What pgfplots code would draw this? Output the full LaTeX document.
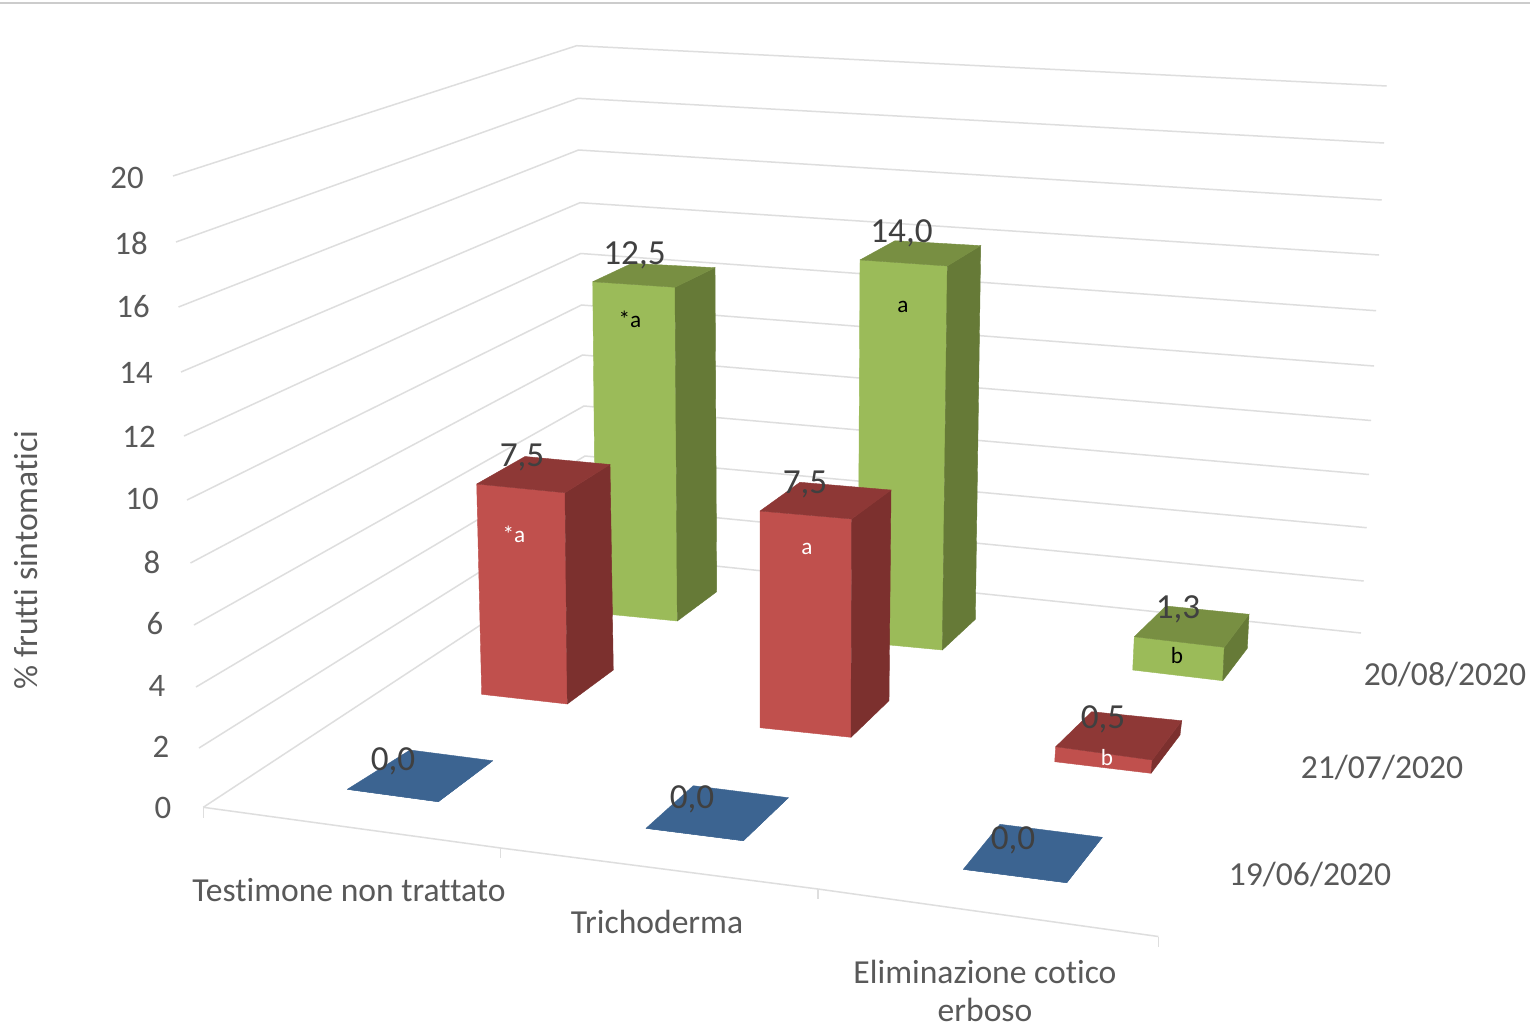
\documentclass[border=0pt]{standalone}
\usepackage{fontspec}
\setmainfont[Ligatures=NoCommon]{Carlito}
\usepackage{pgfplots}
\pgfplotsset{compat=1.18}

\definecolor{griglia}{HTML}{DEDEDE}
\definecolor{asse}{HTML}{595959}
\definecolor{etic}{HTML}{404040}
\definecolor{verdeF}{HTML}{9BBB59}
\definecolor{verdeS}{HTML}{667A37}
\definecolor{verdeT}{HTML}{788F42}
\definecolor{rossoF}{HTML}{C0504D}
\definecolor{rossoS}{HTML}{7C302E}
\definecolor{rossoT}{HTML}{8E3836}
\definecolor{bluT}{HTML}{3C6491}

% A corner is "base x, base y, lift x, lift y", the lift being per unit of height.
\def\cimaaux#1#2#3,#4,#5,#6\relax{%
  \expandafter\def\csname bx#1\endcsname{#3}%
  \expandafter\def\csname by#1\endcsname{#4}%
  \expandafter\pgfmathsetmacro\csname tx#1\endcsname{#3+(#2)*(#5)}%
  \expandafter\pgfmathsetmacro\csname ty#1\endcsname{#4-(#2)*(#6)}%
}
% Column of height #1: colours #2 #3 #4 (front, side, top), corners #5..#8 (FL, FR, BR, BL).
\newcommand\colonna[8]{%
  \cimaaux{A}{#1}#5\relax
  \cimaaux{B}{#1}#6\relax
  \cimaaux{C}{#1}#7\relax
  \cimaaux{D}{#1}#8\relax
  \addplot[fill=#2,draw=#2,line width=.2pt,forget plot] coordinates
    {(\bxA,\byA)(\bxB,\byB)(\txB,\tyB)(\txA,\tyA)(\bxA,\byA)};
  \addplot[fill=#3,draw=#3,line width=.2pt,forget plot] coordinates
    {(\bxB,\byB)(\bxC,\byC)(\txC,\tyC)(\txB,\tyB)(\bxB,\byB)};
  \addplot[fill=#4,draw=#4,line width=.2pt,forget plot] coordinates
    {(\txA,\tyA)(\txB,\tyB)(\txC,\tyC)(\txD,\tyD)(\txA,\tyA)};
}
% Gridline at one height: front end, back corner, right end.
\newcommand\livello[6]{%
  \addplot[griglia,line width=.75pt,forget plot] coordinates {(#1,#2)(#3,#4)(#5,#6)};
}

\begin{document}
\begin{tikzpicture}
\useasboundingbox (0,0) rectangle (765pt,514pt);
\fill[white] (0,0) rectangle (765pt,514pt);
\begin{axis}[
  scale only axis, width=765pt, height=514pt,
  xmin=0, xmax=1530, ymin=0, ymax=1028, y dir=reverse,
  hide axis, clip=false, no markers,
  every node/.append style={inner sep=0pt, anchor=center},
]
% rule along the top of the frame
\addplot[griglia!92!black,line width=.6pt,forget plot] coordinates {(0,3)(1530,3)};

% walls
\livello{173}{176}{576.7}{45.7}{1386.7}{86}
\livello{176}{242}{578}{98.3}{1384}{143}
\livello{178.5}{307}{578.5}{150}{1381.7}{200}
\livello{181}{372}{580}{202.7}{1379}{255}
\livello{184}{436}{580.7}{253.5}{1376}{310.7}
\livello{187}{500}{581.5}{305}{1374}{366}
\livello{190.5}{563}{582.5}{355}{1371}{420.5}
\livello{194}{625}{584}{406}{1369}{474.5}
\livello{196}{687}{585}{456}{1366.7}{527.7}
\livello{199}{748}{586.5}{505}{1363.7}{581}
\livello{203.3}{807.3}{590}{553}{1361}{633}

% front edge of the floor and its ticks
\addplot[griglia,line width=.75pt,forget plot] coordinates {(203.3,807.3)(500.7,848)(818,889)(1158.3,936.5)};
\addplot[griglia,line width=.75pt,forget plot] coordinates {(203.3,807.3)(203.3,817.5)};
\addplot[griglia,line width=.75pt,forget plot] coordinates {(500.7,848)(500.7,858)};
\addplot[griglia,line width=.75pt,forget plot] coordinates {(818,889)(818,899)};
\addplot[griglia,line width=.75pt,forget plot] coordinates {(1158.3,936.5)(1158.3,946.5)};

% 20/08/2020
\colonna{12.5}{verdeF}{verdeS}{verdeT}{596,613,-0.264,26.5}{677.3,621,-0.184,26.7}{716.7,591.7,-0.136,25.92}{634,586,-0.18,25.81}
\colonna{14.0}{verdeF}{verdeS}{verdeT}{858,642,0.143,27.29}{942.3,650,0.357,27.43}{975.3,619.3,0.386,26.69}{891,612,0.286,26.52}
\colonna{1.3}{verdeF}{verdeS}{verdeT}{1132.7,670,1.23,25.6}{1222.7,680.7,1.23,25.7}{1247.3,648.3,1.31,26.15}{1164.4,639.5,1.23,25.77}
% 21/07/2020
\colonna{7.5}{rossoF}{rossoS}{rossoT}{481.7,694.3,-0.667,28.04}{567.3,704,-0.307,28.17}{613.3,670,-0.44,27.4}{527.5,662,-0.33,27.4}
\colonna{7.5}{rossoF}{rossoS}{rossoT}{760,727.7,0,28.89}{851,737.3,0.093,29.11}{889,700.7,0.267,28.09}{798,691,0.267,27.83}
\colonna{0.5}{rossoF}{rossoS}{rossoT}{1054.7,761.7,2,30}{1151,773.3,2.6,26.6}{1180,735,3.4,28.6}{1090,726,3.4,28.6}
% 19/06/2020
\colonna{0.0}{bluT}{bluT}{bluT}{347.3,789.3,0,0}{438.3,801.7,0,0}{492.7,760.7,0,0}{410,750,0,0}
\colonna{0.0}{bluT}{bluT}{bluT}{646,828.3,0,0}{743.3,840.7,0,0}{788.3,797.7,0,0}{693.3,785.7,0,0}
\colonna{0.0}{bluT}{bluT}{bluT}{963.3,869.3,0,0}{1066.7,882.7,0,0}{1102.3,837.3,0,0}{1000,824.3,0,0}

% height scale
\begin{scope}[every node/.append style={text=asse,font=\fontsize{16.4}{19}\selectfont}]
\node at (axis cs:127,178) {20};
\node at (axis cs:131,243) {18};
\node at (axis cs:133,307) {16};
\node at (axis cs:136,373) {14};
\node at (axis cs:139,437) {12};
\node at (axis cs:142,499) {10};
\node at (axis cs:152,562) {8};
\node at (axis cs:155,624) {6};
\node at (axis cs:157,686) {4};
\node at (axis cs:161,747) {2};
\node at (axis cs:163,808) {0};
\end{scope}
\begin{scope}[every node/.append style={text=asse,font=\fontsize{16.8}{20}\selectfont}]
% treatments
\node at (axis cs:349,890) {Testimone non trattato};
\node at (axis cs:657,922) {Trichoderma};
\node at (axis cs:985,972) {Eliminazione cotico};
\node at (axis cs:985,1010) {erboso};
% dates
\node at (axis cs:1445,674.5) {20/08/2020};
\node at (axis cs:1382,767.5) {21/07/2020};
\node at (axis cs:1310,874.5) {19/06/2020};
\node[rotate=90] at (axis cs:26.5,560) {\% frutti sintomatici};
\end{scope}

% values
\begin{scope}[every node/.append style={text=etic,font=\fontsize{17.6}{21}\selectfont}]
\node at (axis cs:634.5,255.5) {12,5};
\node at (axis cs:522,457) {7,5};
\node at (axis cs:901.5,233.5) {14,0};
\node at (axis cs:805,484) {7,5};
\node at (axis cs:1178,609.5) {1,3};
\node at (axis cs:1103,719.5) {0,5};
\node at (axis cs:393,761.5) {0,0};
\node at (axis cs:692,799.5) {0,0};
\node at (axis cs:1013,840.5) {0,0};
\end{scope}

% significance letters
\begin{scope}[every node/.append style={font=\fontsize{11.6}{14}\selectfont}]
\node[text=black] at (axis cs:630,319) {*a};
\node[text=black] at (axis cs:903,307) {a};
\node[text=black] at (axis cs:1177,656) {b};
\node[text=white] at (axis cs:514,534) {*a};
\node[text=white] at (axis cs:807,549) {a};
\node[text=white] at (axis cs:1107,758) {b};
\end{scope}
\end{axis}
\end{tikzpicture}
\end{document}
